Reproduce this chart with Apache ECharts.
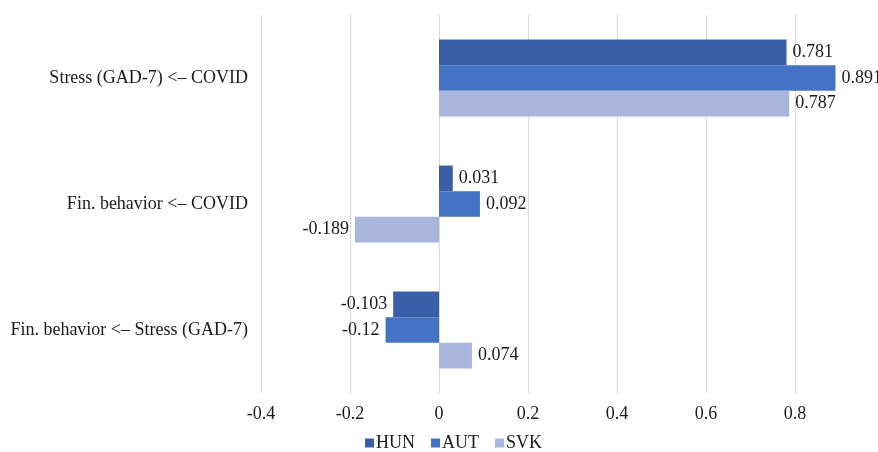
<!DOCTYPE html>
<html>
<head>
<meta charset="utf-8">
<script src="https://cdn.jsdelivr.net/npm/echarts@6/dist/echarts.min.js"></script>
<style>
  html, body { margin: 0; padding: 0; background: #fff; }
  #chart { width: 878px; height: 452px; }
</style>
</head>
<body>
<div id="chart"></div>
<script>
// Path coefficients per country, listed from top to bottom
const categories = [
  'Stress (GAD-7) <\u2013 COVID',
  'Fin. behavior <\u2013 COVID',
  'Fin. behavior <\u2013 Stress (GAD-7)'
];
const hun = [0.781, 0.031, -0.103];
const aut = [0.891, 0.092, -0.12];
const svk = [0.787, -0.189, 0.074];
const seriesNames = ['HUN', 'AUT', 'SVK'];
const seriesColors = ['#3A5FA8', '#4472C4', '#A8B6DB'];

const font = '"Liberation Serif", "Times New Roman", serif';
const fontSize = 18;

function makeSeries(name, values, color) {
  return {
    name: name,
    type: 'bar',
    barGap: '0%',
    barCategoryGap: '39%',
    itemStyle: { color: color },
    data: values.map(v => ({
      value: v,
      label: {
        show: true,
        position: v < 0 ? 'left' : 'right',
        distance: 6,
        formatter: p => String(p.value),
        fontFamily: font,
        fontSize: fontSize,
        color: '#1a1a1a'
      }
    }))
  };
}

const chart = echarts.init(document.getElementById('chart'));
chart.setOption({
  animation: false,
  textStyle: { fontFamily: font },
  // the value axis runs to 1.0, just past the right edge of the canvas
  grid: {
    left: 261, width: 623, top: 15, bottom: 59,
    containLabel: false,
    outerBoundsMode: 'none'
  },
  legend: {
    top: 431,
    left: 362,
    padding: 3,
    itemWidth: 9,
    itemHeight: 9,
    itemGap: 16,
    icon: 'rect',
    textStyle: { fontFamily: font, fontSize: fontSize, color: '#1a1a1a', padding: [0, 0, 0, -3] },
    data: seriesNames
  },
  xAxis: {
    type: 'value',
    min: -0.4,
    max: 1.0,
    interval: 0.2,
    axisLine: { show: false },
    axisTick: { show: false },
    axisLabel: {
      fontFamily: font,
      fontSize: fontSize,
      color: '#1a1a1a',
      margin: 12,
      formatter: v => (Math.abs(v) < 1e-9 ? '0' : String(Math.round(v * 10) / 10))
    },
    splitLine: { lineStyle: { color: '#D9D9D9', width: 1 } }
  },
  yAxis: {
    type: 'category',
    inverse: true,
    data: categories,
    axisLine: { show: false },
    axisTick: { show: false },
    axisLabel: { fontFamily: font, fontSize: fontSize, color: '#1a1a1a', margin: 13 }
  },
  series: [
    makeSeries(seriesNames[0], hun, seriesColors[0]),
    makeSeries(seriesNames[1], aut, seriesColors[1]),
    makeSeries(seriesNames[2], svk, seriesColors[2])
  ]
});
</script>
</body>
</html>
